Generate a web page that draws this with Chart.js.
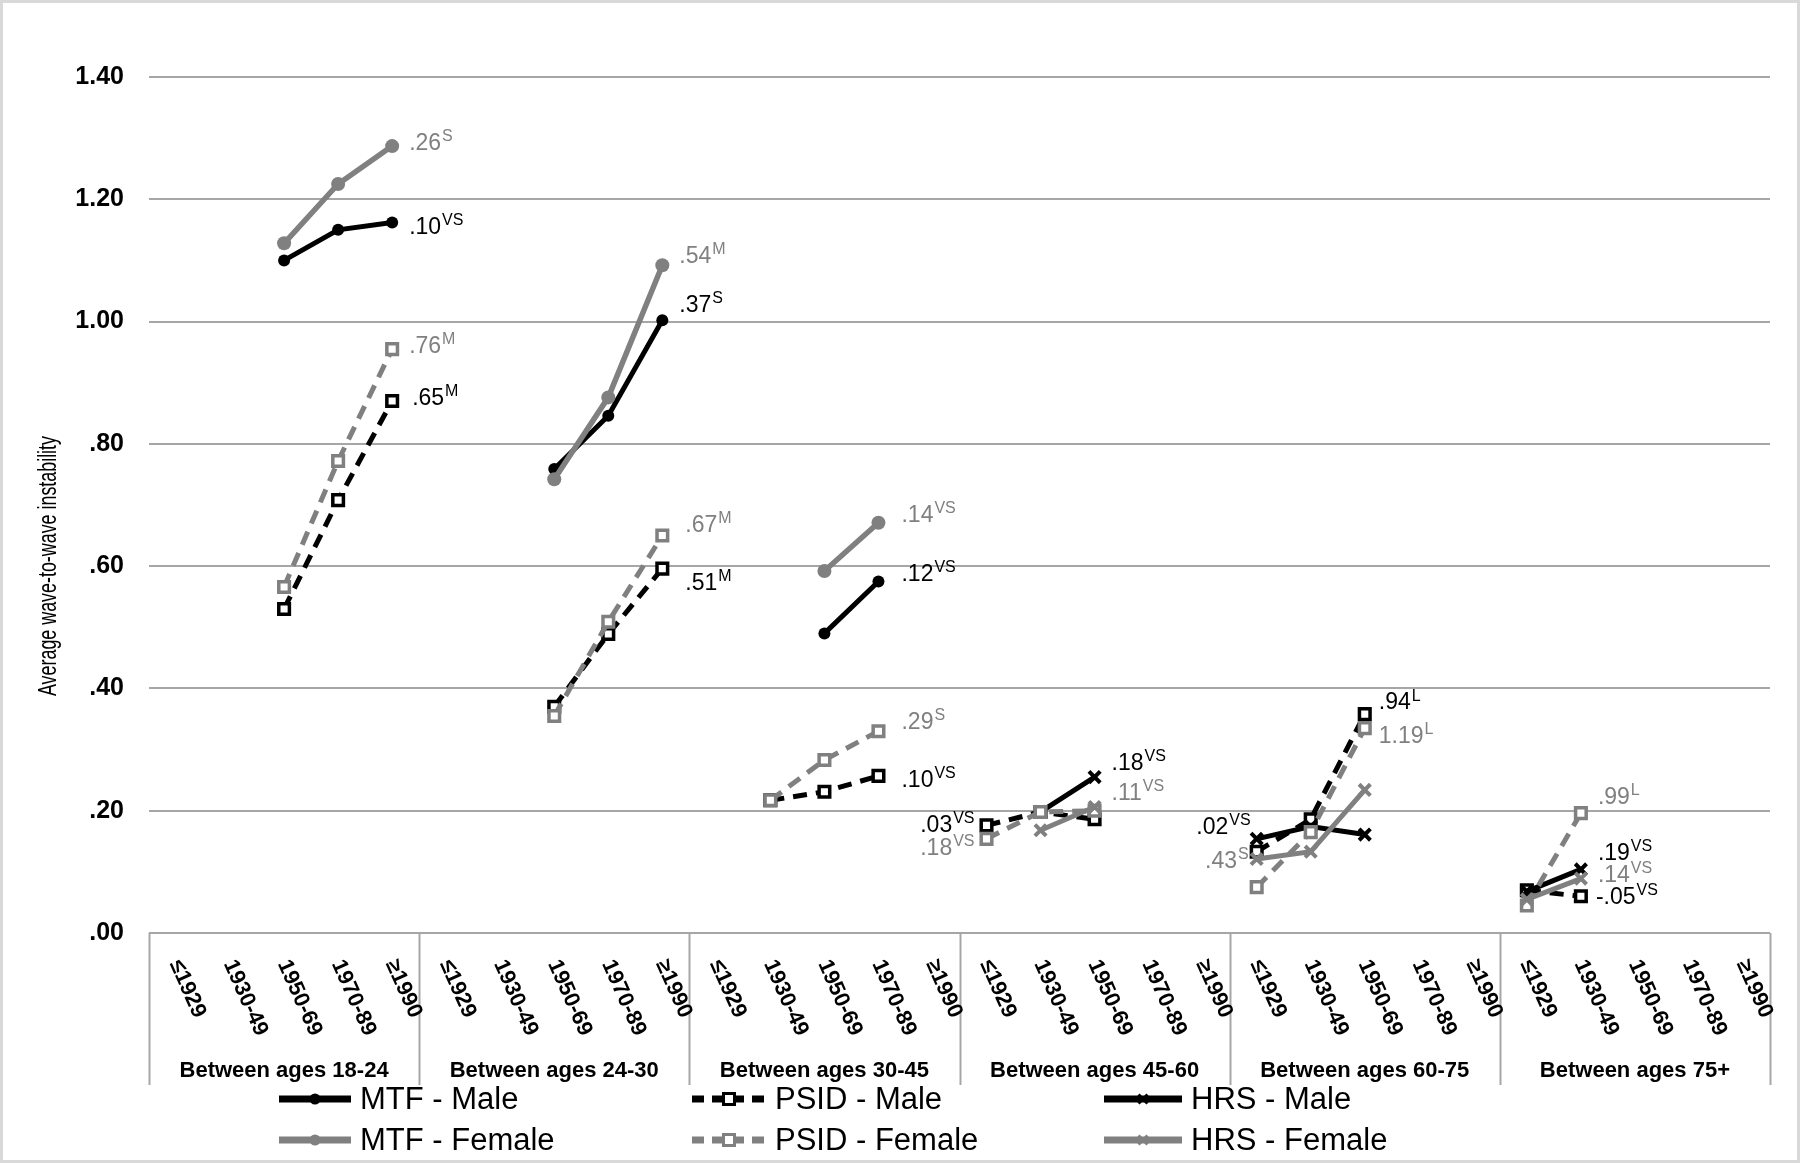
<!DOCTYPE html>
<html>
<head>
<meta charset="utf-8">
<script src="https://cdn.jsdelivr.net/npm/chart.js@4.4.0/dist/chart.umd.min.js"></script>
<style>
  html, body { margin: 0; padding: 0; background: #fff; }
  #wrap { width: 1800px; height: 1163px; }
</style>
</head>
<body>
<div id="wrap"><canvas id="chart" width="1800" height="1163"></canvas></div>
<script>
// age bands and birth cohorts (x axis)
const groups = ['Between ages 18-24', 'Between ages 24-30', 'Between ages 30-45',
                'Between ages 45-60', 'Between ages 60-75', 'Between ages 75+'];
const cohorts = ['≤1929', '1930-49', '1950-69', '1970-89', '≥1990'];

// values per band, in cohort order
const mtfMale = [
  null, null, 1.10, 1.15, 1.162,
  null, null, 0.759, 0.846, 1.002,
  null, null, 0.49, 0.575, null,
  null, null, null, null, null,
  null, null, null, null, null,
  null, null, null, null, null
];
const psidMale = [
  null, null, 0.53, 0.708, 0.87,
  null, null, 0.37, 0.489, 0.596,
  null, 0.217, 0.231, 0.257, null,
  0.176, 0.198, 0.186, null, null,
  0.133, 0.186, 0.358, null, null,
  0.07, 0.06, null, null, null
];
const hrsMale = [
  null, null, null, null, null,
  null, null, null, null, null,
  null, null, null, null, null,
  null, 0.198, 0.255, null, null,
  0.154, 0.174, 0.161, null, null,
  0.068, 0.104, null, null, null
];
const mtfFemale = [
  null, null, 1.128, 1.225, 1.287,
  null, null, 0.742, 0.876, 1.092,
  null, null, 0.592, 0.671, null,
  null, null, null, null, null,
  null, null, null, null, null,
  null, null, null, null, null
];
const psidFemale = [
  null, null, 0.566, 0.772, 0.955,
  null, null, 0.355, 0.509, 0.65,
  null, 0.217, 0.283, 0.33, null,
  0.154, 0.198, 0.2, null, null,
  0.075, 0.165, 0.335, null, null,
  0.045, 0.196, null, null, null
];
const hrsFemale = [
  null, null, null, null, null,
  null, null, null, null, null,
  null, null, null, null, null,
  null, 0.168, 0.206, null, null,
  0.121, 0.133, 0.234, null, null,
  0.055, 0.089, null, null, null
];

const yTicks = [0, 0.2, 0.4, 0.6, 0.8, 1.0, 1.2, 1.4];

// effect-size notes next to points: series, category index, text, superscript
const notes = [
  ['MTF - Female', 4, '.26', 'S'],
  ['MTF - Male', 4, '.10', 'VS'],
  ['PSID - Female', 4, '.76', 'M'],
  ['PSID - Male', 4, '.65', 'M'],
  ['MTF - Female', 9, '.54', 'M'],
  ['MTF - Male', 9, '.37', 'S'],
  ['PSID - Female', 9, '.67', 'M'],
  ['PSID - Male', 9, '.51', 'M'],
  ['MTF - Female', 13, '.14', 'VS'],
  ['MTF - Male', 13, '.12', 'VS'],
  ['PSID - Female', 13, '.29', 'S'],
  ['PSID - Male', 13, '.10', 'VS'],
  ['PSID - Male', 15, '.03', 'VS'],
  ['PSID - Female', 15, '.18', 'VS'],
  ['HRS - Male', 17, '.18', 'VS'],
  ['HRS - Female', 17, '.11', 'VS'],
  ['HRS - Male', 20, '.02', 'VS'],
  ['HRS - Female', 20, '.43', 'S'],
  ['PSID - Male', 22, '.94', 'L'],
  ['PSID - Female', 22, '1.19', 'L'],
  ['PSID - Female', 26, '.99', 'L'],
  ['HRS - Male', 26, '.19', 'VS'],
  ['HRS - Female', 26, '.14', 'VS'],
  ['PSID - Male', 26, '-.05', 'VS']
];
// where each note sits relative to its point: dx, dy, side
const notePlace = [
  [17, -2, 'l'], [17, 5, 'l'], [17, -2, 'l'], [20, -2, 'l'],
  [17, -9, 'l'], [17, -15, 'l'], [23, -10, 'l'], [23, 15, 'l'],
  [23, -7, 'l'], [23, -7, 'l'], [23, -9, 'l'], [23, 5, 'l'],
  [-12, 0, 'r'], [-12, 10, 'r'], [17, -13, 'l'], [17, -13, 'l'],
  [-6, -11, 'r'], [-8, 3, 'r'], [14, -11, 'l'], [14, 8, 'l'],
  [17, -16, 'l'], [17, -16, 'l'], [17, -3, 'l'], [15, 1, 'l']
];

const labels = [];
groups.forEach(g => cohorts.forEach(c => labels.push(c)));

const BLACK = '#000000';
const GREY = '#808080';
const SANS = '"Liberation Sans", Arial, sans-serif';

function series(name, data, color, style, dashed) {
  const ds = {
    label: name,
    data: data,
    borderColor: color,
    borderWidth: 5,
    borderDash: dashed ? [14, 9] : [],
    pointStyle: style,
    pointBorderColor: color,
    spanGaps: false,
    tension: 0
  };
  if (style === 'circle') {
    ds.pointRadius = color === GREY ? 7 : 6;
    ds.pointBackgroundColor = color;
    ds.pointBorderWidth = 0;
    if (color === GREY) ds.borderWidth = 5.5;
  } else if (style === 'rect') {
    ds.pointRadius = 7.5;
    ds.pointBackgroundColor = '#ffffff';
    ds.pointBorderWidth = 3.5;
  } else {
    ds.pointRadius = 8;
    ds.pointBackgroundColor = color;
    ds.pointBorderWidth = 4;
  }
  return ds;
}

const datasets = [
  series('MTF - Male', mtfMale, BLACK, 'circle', false),
  series('PSID - Male', psidMale, BLACK, 'rect', true),
  series('HRS - Male', hrsMale, BLACK, 'crossRot', false),
  series('MTF - Female', mtfFemale, GREY, 'circle', false),
  series('PSID - Female', psidFemale, GREY, 'rect', true),
  series('HRS - Female', hrsFemale, GREY, 'crossRot', false)
];
// later series on top, like the original
datasets.forEach((d, i) => { d.order = datasets.length - i; });

function fmt(v) {
  const s = v.toFixed(2);
  return s.startsWith('0') ? s.slice(1) : s;
}

function marker(ctx, style, color, x, y, r) {
  ctx.save();
  ctx.setLineDash([]);
  ctx.fillStyle = color;
  ctx.strokeStyle = color;
  if (style === 'circle') {
    ctx.beginPath();
    ctx.arc(x, y, r, 0, Math.PI * 2);
    ctx.fill();
  } else if (style === 'rect') {
    ctx.fillStyle = '#fff';
    ctx.lineWidth = 3;
    ctx.fillRect(x - r, y - r, 2 * r, 2 * r);
    ctx.strokeRect(x - r, y - r, 2 * r, 2 * r);
  } else {
    ctx.lineWidth = 3;
    ctx.beginPath();
    ctx.moveTo(x - r, y - r); ctx.lineTo(x + r, y + r);
    ctx.moveTo(x - r, y + r); ctx.lineTo(x + r, y - r);
    ctx.stroke();
  }
  ctx.restore();
}

// text squeezed to a given width (the original uses a narrow face)
function narrowText(ctx, text, x, y, width) {
  const w = ctx.measureText(text).width;
  const k = Math.min(1, width / w);
  ctx.save();
  ctx.translate(x, y);
  ctx.scale(k, 1);
  ctx.fillText(text, 0, 0);
  ctx.restore();
}

const extras = {
  id: 'extras',
  afterDraw(chart) {
    const ctx = chart.ctx;
    const xs = chart.scales.x;
    const area = chart.chartArea;
    ctx.save();

    // outer frame
    ctx.strokeStyle = '#d9d9d9';
    ctx.lineWidth = 3;
    ctx.strokeRect(1.5, 1.5, chart.width - 3, chart.height - 3);

    // y axis title
    ctx.save();
    ctx.translate(49, 566);
    ctx.rotate(-Math.PI / 2);
    ctx.fillStyle = '#000';
    ctx.font = '26px ' + SANS;
    ctx.textAlign = 'center';
    ctx.textBaseline = 'middle';
    narrowText(ctx, 'Average wave-to-wave instability', 0, 0, 260);
    ctx.restore();

    // band separators below the axis
    const step = (area.right - area.left) / groups.length;
    ctx.strokeStyle = '#a6a6a6';
    ctx.lineWidth = 2;
    for (let k = 0; k <= groups.length; k++) {
      const x = Math.round(area.left + step * k) + 0.5;
      ctx.beginPath();
      ctx.moveTo(x, area.bottom);
      ctx.lineTo(x, 1085);
      ctx.stroke();
    }

    // slanted cohort labels
    ctx.fillStyle = '#000';
    ctx.font = 'bold 22px ' + SANS;
    ctx.textAlign = 'left';
    ctx.textBaseline = 'middle';
    labels.forEach((lab, i) => {
      const x = xs.getPixelForValue(i);
      ctx.save();
      ctx.translate(x - 1, 961);
      ctx.rotate(66 * Math.PI / 180);
      ctx.fillText(lab, 0, 0);
      ctx.restore();
    });

    // band names
    ctx.font = 'bold 22px ' + SANS;
    ctx.textAlign = 'center';
    groups.forEach((g, k) => {
      ctx.fillText(g, area.left + step * (k + 0.5), 1071);
    });

    // notes next to the points
    notes.forEach((n, j) => {
      const di = datasets.findIndex(d => d.label === n[0]);
      const pt = chart.getDatasetMeta(di).data[n[1]];
      const [dx, dy, side] = notePlace[j];
      const color = datasets[di].borderColor === GREY ? GREY : '#000';
      const mainFont = '23px ' + SANS;
      const supFont = '16px ' + SANS;
      ctx.font = mainFont;
      const w1 = ctx.measureText(n[2]).width;
      ctx.font = supFont;
      const w2 = ctx.measureText(n[3]).width;
      let x0 = pt.x + dx;
      if (side === 'r') x0 -= (w1 + w2 + 1);
      const y0 = pt.y + dy;
      ctx.fillStyle = color;
      ctx.textAlign = 'left';
      ctx.textBaseline = 'middle';
      ctx.font = mainFont;
      ctx.fillText(n[2], x0, y0);
      ctx.font = supFont;
      ctx.fillText(n[3], x0 + w1 + 1, y0 - 7);
    });

    // legend, three columns by two rows
    const cols = [[279, 351], [692, 766], [1104, 1182]];
    const rows = [1099, 1140];
    datasets.forEach((d, i) => {
      const [x1, x2] = cols[i % 3];
      const y = rows[Math.floor(i / 3)];
      ctx.save();
      ctx.strokeStyle = d.borderColor;
      ctx.lineWidth = 7;
      ctx.setLineDash(d.borderDash.length ? [12, 8] : []);
      ctx.beginPath();
      ctx.moveTo(x1, y);
      ctx.lineTo(x2, y);
      ctx.stroke();
      ctx.restore();
      const r = d.pointStyle === 'circle' ? 5.5 : (d.pointStyle === 'rect' ? 5.5 : 4.5);
      marker(ctx, d.pointStyle, d.borderColor, (x1 + x2) / 2, y, r);
      ctx.fillStyle = '#000';
      ctx.font = '31px ' + SANS;
      ctx.textAlign = 'left';
      ctx.textBaseline = 'middle';
      narrowText(ctx, d.label, x2 + 9, y + 1, 1000);
    });

    ctx.restore();
  }
};

new Chart(document.getElementById('chart'), {
  type: 'line',
  data: { labels: labels, datasets: datasets },
  options: {
    responsive: false,
    animation: false,
    events: [],
    layout: { padding: { left: 0, right: 30, top: 77, bottom: 0 } },
    plugins: {
      legend: { display: false },
      tooltip: { enabled: false }
    },
    scales: {
      x: {
        type: 'category',
        offset: true,
        grid: { display: false },
        border: { display: false },
        ticks: { display: false },
        afterFit(s) { s.height = 230; }
      },
      y: {
        min: 0,
        max: 1.4,
        afterBuildTicks(s) { s.ticks = yTicks.map(v => ({ value: v })); },
        grid: { color: '#a6a6a6', lineWidth: 2, drawTicks: false },
        border: { display: false },
        ticks: {
          padding: 25,
          color: '#000',
          font: { family: SANS, size: 25, weight: 'bold' },
          callback: v => fmt(v)
        },
        afterFit(s) { s.width = 149; }
      }
    }
  },
  plugins: [extras]
});
</script>
</body>
</html>
